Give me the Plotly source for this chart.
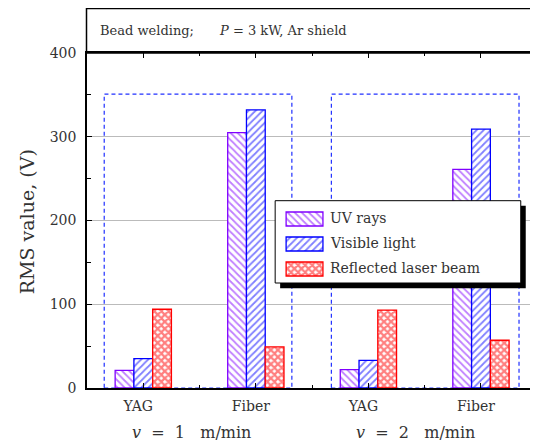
import plotly.graph_objects as go

# ---------------- data ----------------
categories = ["YAG", "Fiber", "YAG", "Fiber"]
x_pos = [0, 1, 2, 3]
uv_rays = [21, 305, 22, 261]
visible_light = [35, 332, 33, 309]
reflected_beam = [94, 49, 93, 57]
speed_labels = ["1", "2"]
y_ticks = [0, 100, 200, 300, 400]

series_names = ["UV rays", "Visible light", "Reflected laser beam"]
series_values = [uv_rays, visible_light, reflected_beam]
colors = ["#8000ff", "#0000ff", "#ff0000"]
patterns = ["\\", "/", "x"]
pat_size = [5, 5, 5]
pat_sol = [0.35, 0.35, 0.7]

FONT = "DejaVu Serif"
OFF = 8  # page body margin
W, H = 538 - OFF, 443 - OFF
ML, MR, MT, MB = 87 - OFF, 1, 53 - OFF, 55
PW, PH = W - ML - MR, H - MT - MB


def px(xs):  # screen pixel -> paper
    return (xs - OFF - ML) / PW


def py(ys):
    return (H - MB - (ys - OFF)) / PH


fig = go.Figure()
for name, vals, c, p, s, so in zip(series_names, series_values, colors, patterns, pat_size, pat_sol):
    fig.add_trace(go.Bar(
        x=x_pos, y=vals, name=name, showlegend=False,
        marker=dict(color="white", line=dict(color=c, width=1.3),
                    pattern=dict(shape=p, fgcolor=c, bgcolor="white", size=s, solidity=so)),
    ))

# legend swatches on an overlay subplot drawn in screen-pixel units
LX0, LX1, LY0, LY1 = 274, 530, 198, 291
sw_x0, sw_x1 = 287, 324
sw_tops = [212, 237, 262]
fig.add_trace(go.Bar(
    x=[(sw_x0 + sw_x1) / 2] * 3, y=[14, 14, 14], base=sw_tops, width=[sw_x1 - sw_x0] * 3,
    xaxis="x2", yaxis="y2", showlegend=False, hoverinfo="skip",
    marker=dict(color="white", line=dict(color=colors, width=1.3),
                pattern=dict(shape=patterns, fgcolor=colors, bgcolor="white", size=pat_size, solidity=pat_sol)),
))

shapes = []
# dashed blue boxes (data coords)
for x0, x1 in [(-0.347, 1.32), (1.671, 3.338)]:
    shapes.append(dict(type="rect", xref="x", yref="y", x0=x0, x1=x1, y0=0, y1=351,
                       line=dict(color="#2030ff", width=1.2, dash="4px,3px"), layer="below"))
# header box
shapes.append(dict(type="rect", xref="paper", yref="paper", x0=px(86.5), x1=px(545), y0=1, y1=py(8.6),
                   line=dict(color="black", width=1.5), fillcolor="rgba(0,0,0,0)", layer="above"))
# legend shadow and box
shapes.append(dict(type="rect", xref="x2", yref="y2", x0=281, x1=527.7, y0=205.7, y1=288.3,
                   line=dict(width=0), fillcolor="black", layer="below"))
shapes.append(dict(type="rect", xref="x2", yref="y2", x0=276, x1=522.7, y0=200.7, y1=283,
                   line=dict(color="black", width=1), fillcolor="white", layer="below"))

annotations = []
for name, top in zip(series_names, sw_tops):
    annotations.append(dict(text=name, xref="paper", yref="paper", x=px(329), y=py(top + 6),
                            xanchor="left", yanchor="middle", showarrow=False,
                            font=dict(family=FONT, size=14, color="#333")))
annotations.append(dict(text="Bead welding;", xref="paper", yref="paper", x=px(98), y=py(30),
                        xanchor="left", yanchor="middle", showarrow=False,
                        font=dict(family=FONT, size=13, color="#333")))
annotations.append(dict(text="<i>P</i> = 3 kW, Ar shield", xref="paper", yref="paper", x=px(218), y=py(30),
                        xanchor="left", yanchor="middle", showarrow=False,
                        font=dict(family=FONT, size=13, color="#333")))
annotations.append(dict(text="RMS value, (V)", xref="paper", yref="paper", x=px(27), y=py(222),
                        xanchor="center", yanchor="middle", showarrow=False, textangle=-90,
                        font=dict(family=FONT, size=19, color="#333")))
for lab, cx in zip(speed_labels, [191.5, 417]):
    annotations.append(dict(text="<i>v</i>  =  " + lab + "   m/min", xref="paper", yref="paper",
                            x=px(cx), y=py(432), xanchor="center", yanchor="middle", showarrow=False,
                            font=dict(family=FONT, size=16, color="#333")))

fig.update_layout(
    width=W, height=H, margin=dict(l=ML, r=MR, t=MT, b=MB),
    barmode="group", bargap=0.5, bargroupgap=0,
    paper_bgcolor="white", plot_bgcolor="rgba(0,0,0,0)",
    showlegend=False, shapes=shapes, annotations=annotations,
    xaxis=dict(range=[-0.5, 3.48], tickvals=x_pos, ticktext=categories,
               ticks="inside", ticklen=5, tickcolor="black", tickwidth=1,
               minor=dict(ticks="inside", tick0=0.5, dtick=1, ticklen=3, tickcolor="black"),
               showline=True, linecolor="black", linewidth=1.5, mirror="ticks",
               showgrid=False, zeroline=False, ticklabelshift=-5, ticklabelstandoff=4,
               tickfont=dict(family=FONT, size=14, color="#333")),
    yaxis=dict(range=[0, 400], tickvals=y_ticks,
               ticks="inside", ticklen=5, tickcolor="black", tickwidth=1,
               minor=dict(ticks="inside", tick0=0, dtick=50, ticklen=4, tickcolor="black", showgrid=False),
               showline=True, linecolor="black", linewidth=1.5, mirror="ticks",
               showgrid=True, gridcolor="#bbbbbb", gridwidth=1, zeroline=False,
               ticklabelstandoff=6,
               tickfont=dict(family=FONT, size=14, color="#333")),
    xaxis2=dict(domain=[px(LX0), px(LX1)], range=[LX0, LX1], anchor="y2", visible=False, fixedrange=True),
    yaxis2=dict(domain=[py(LY1), py(LY0)], range=[LY1, LY0], anchor="x2", visible=False, fixedrange=True),
)

fig.write_html("out.html")
